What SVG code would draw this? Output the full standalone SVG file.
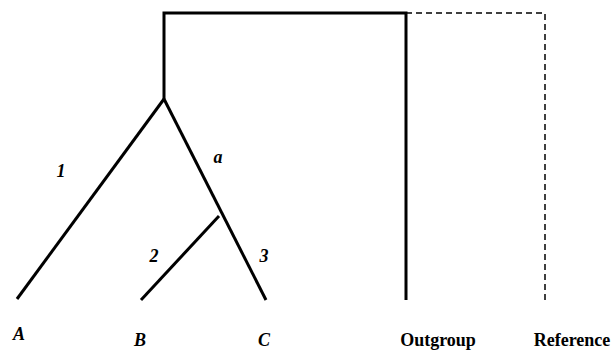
<svg xmlns="http://www.w3.org/2000/svg" width="613" height="350" viewBox="0 0 613 350">
<style>
.s{stroke:#000;stroke-width:3;fill:none;stroke-linecap:butt}
.d{stroke:#000;stroke-width:1.5;fill:none;stroke-dasharray:6 4}
.t{font-family:"Liberation Serif",serif;font-size:18px;font-weight:bold;fill:#000}
.i{font-style:italic}
</style>
<rect width="613" height="350" fill="#fff"/>
<g id="connectors">
<polyline class="s" points="164,99 164,13 406,13 406,300"/>
<line class="s" x1="164" y1="99" x2="17" y2="299"/>
<line class="s" x1="164" y1="99" x2="266" y2="300"/>
<line class="s" x1="219" y1="216" x2="141" y2="300"/>
<polyline class="d" points="406,13 545,13 545,300"/>
</g>
<g id="labels">
<text class="t i" x="61" y="177" text-anchor="middle">1</text>
<text class="t i" x="218" y="163" text-anchor="middle">a</text>
<text class="t i" x="154" y="262" text-anchor="middle">2</text>
<text class="t i" x="264" y="262" text-anchor="middle">3</text>
</g>
<g id="A"><text class="t i" x="19" y="340" text-anchor="middle">A</text></g>
<g id="B"><text class="t i" x="140" y="346" text-anchor="middle">B</text></g>
<g id="C"><text class="t i" x="264" y="346" text-anchor="middle">C</text></g>
<g id="Outgroup"><text class="t" x="438" y="346" text-anchor="middle">Outgroup</text></g>
<g id="Reference"><text class="t" x="572" y="346" text-anchor="middle">Reference</text></g>
</svg>
